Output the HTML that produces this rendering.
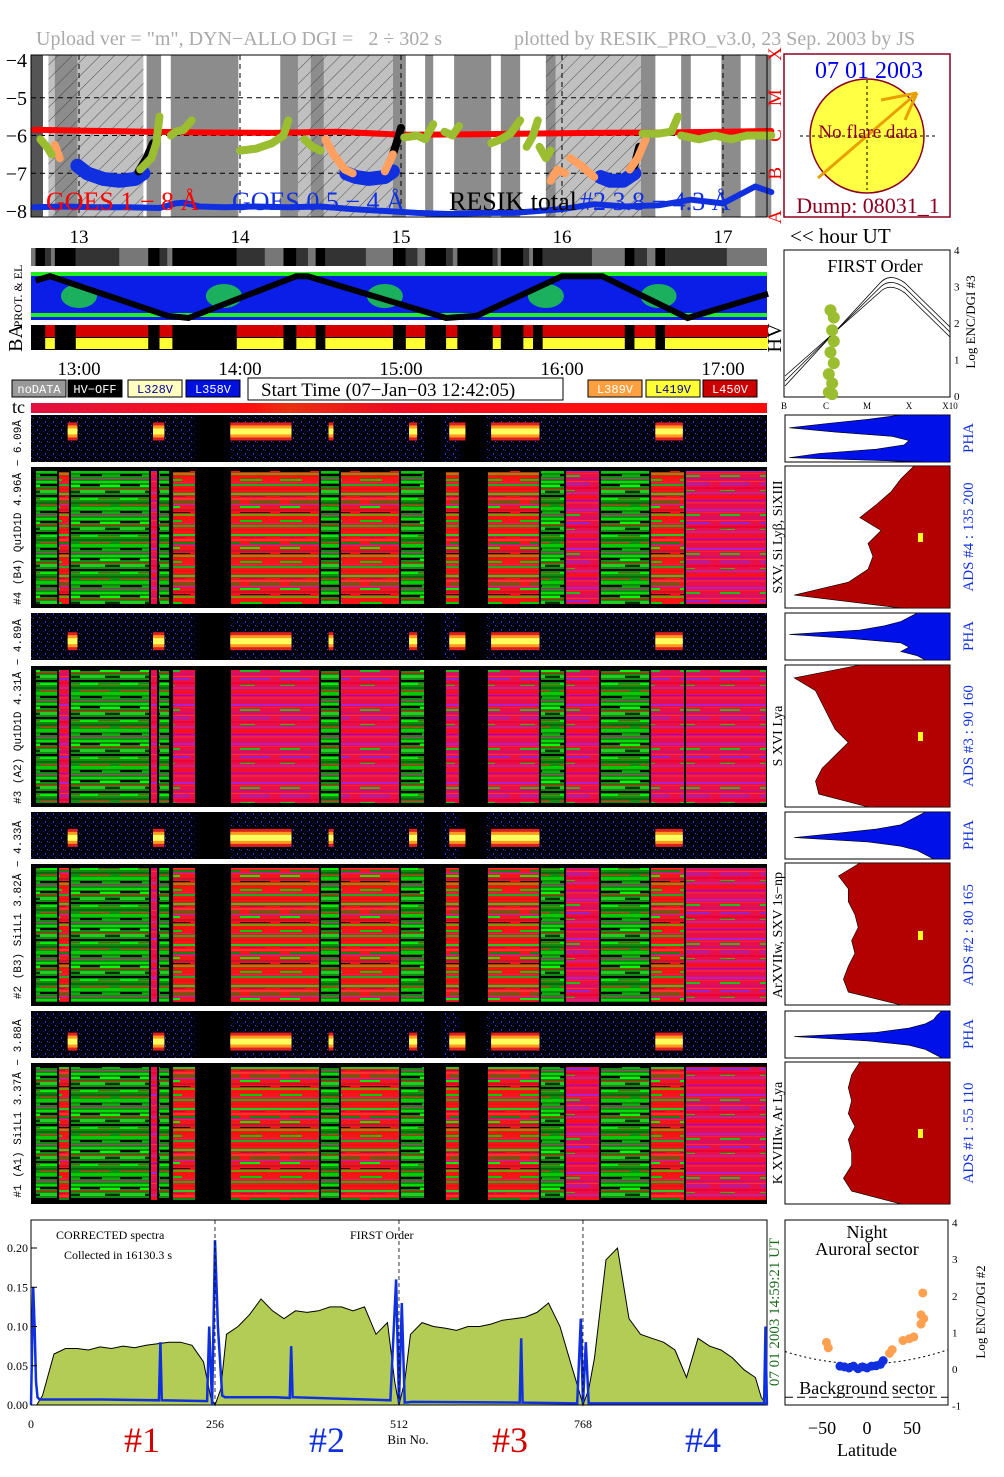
<!DOCTYPE html>
<html><head><meta charset="utf-8"><title>RESIK quicklook</title>
<style>
html,body{margin:0;padding:0;background:#fff;}
body{width:1004px;height:1477px;overflow:hidden;}
svg{display:block;font-family:"Liberation Serif",serif;}
</style></head>
<body>
<svg id="root" width="1004" height="1477" viewBox="0 0 1004 1477" xmlns="http://www.w3.org/2000/svg">
<defs>
<pattern id="hatch" width="10" height="10" patternUnits="userSpaceOnUse" patternTransform="rotate(45)"><line x1="0" y1="0" x2="0" y2="10" stroke="#333" stroke-width="0.8"/></pattern>
<pattern id="patG" width="40" height="37" patternUnits="userSpaceOnUse">
<rect width="40" height="37" fill="#118a11"/><rect y="0" width="40" height="2" fill="#00dd00"/><rect y="3" width="20" height="2" fill="#000"/><rect x="20" y="4" width="20" height="2" fill="#00ff00"/><rect y="7" width="40" height="1" fill="#e01010"/><rect y="9" width="25" height="3" fill="#22cc22"/><rect x="25" y="10" width="15" height="2" fill="#003300"/><rect y="14" width="40" height="2" fill="#000"/><rect y="17" width="18" height="2" fill="#00ee00"/><rect x="18" y="18" width="22" height="1" fill="#668800"/><rect y="21" width="40" height="2" fill="#0a6a0a"/><rect y="24" width="30" height="1" fill="#ff2020"/><rect y="26" width="40" height="3" fill="#00cc00"/><rect y="30" width="22" height="2" fill="#000"/><rect x="22" y="31" width="18" height="2" fill="#11aa11"/><rect y="34" width="40" height="1" fill="#c03080"/>
</pattern>
<pattern id="patR" width="40" height="41" patternUnits="userSpaceOnUse">
<rect width="40" height="41" fill="#f01818"/><rect y="1" width="40" height="2" fill="#22cc22"/><rect y="4" width="25" height="1" fill="#cc0044"/><rect y="6" width="40" height="2" fill="#ff3030"/><rect x="10" y="9" width="30" height="2" fill="#118811"/><rect y="12" width="40" height="1" fill="#bb22cc"/><rect y="14" width="20" height="2" fill="#00ee00"/><rect y="17" width="40" height="2" fill="#d01030"/><rect y="20" width="30" height="1" fill="#000"/><rect y="22" width="40" height="2" fill="#779900"/><rect y="25" width="40" height="2" fill="#ff1010"/><rect y="28" width="22" height="2" fill="#00cc00"/><rect y="31" width="40" height="1" fill="#e02060"/><rect y="33" width="40" height="2" fill="#22aa22"/><rect y="37" width="40" height="2" fill="#ee1111"/>
</pattern>
<pattern id="patM" width="40" height="39" patternUnits="userSpaceOnUse">
<rect width="40" height="39" fill="#e8104a"/><rect y="2" width="40" height="2" fill="#b020d0"/><rect y="5" width="40" height="1" fill="#ff2020"/><rect y="7" width="20" height="2" fill="#22bb22"/><rect y="10" width="40" height="2" fill="#d01070"/><rect y="13" width="40" height="1" fill="#ff3030"/><rect y="15" width="30" height="2" fill="#9922cc"/><rect y="19" width="40" height="2" fill="#ee0033"/><rect y="22" width="15" height="1" fill="#00cc00"/><rect y="24" width="40" height="2" fill="#cc2288"/><rect y="28" width="40" height="2" fill="#ff1010"/><rect y="32" width="40" height="1" fill="#aa00cc"/><rect y="34" width="40" height="2" fill="#f02040"/>
</pattern>
<pattern id="patP" width="8" height="8" patternUnits="userSpaceOnUse">
<rect width="8" height="8" fill="#000"/><rect x="1" y="2" width="1" height="1" fill="#1020c0"/><rect x="5" y="5" width="1" height="2" fill="#2030ff"/><rect x="3" y="7" width="1" height="1" fill="#1010a0"/><rect x="7" y="1" width="1" height="1" fill="#3040ff"/>
</pattern>
<linearGradient id="tcg" x1="0" x2="1"><stop offset="0" stop-color="#e01040"/><stop offset="0.3" stop-color="#ff1010"/><stop offset="0.35" stop-color="#e83010"/><stop offset="0.5" stop-color="#ee0a20"/><stop offset="0.75" stop-color="#ff1010"/><stop offset="1" stop-color="#ff0a0a"/></linearGradient>
</defs>

<text x="36" y="45" font-size="20" fill="#aaa" xml:space="preserve" style="white-space:pre">Upload ver = "m", DYN−ALLO DGI =   2 ÷ 302 s</text>
<text x="514" y="45" font-size="20" fill="#aaa">plotted by RESIK_PRO_v3.0, 23 Sep. 2003 by JS</text>

<g id="goes"></g>
<g id="sun">
<rect x="784" y="54" width="166" height="163" fill="#fff" stroke="#8b0020" stroke-width="1.5"/>
<circle cx="867" cy="136" r="57" fill="#ffff44" stroke="#8b0020" stroke-width="1.5"/>
<line x1="867" y1="80" x2="867" y2="190" stroke="#000" stroke-dasharray="3,3"/>
<line x1="800" y1="136" x2="935" y2="136" stroke="#000" stroke-dasharray="3,3"/>
<line x1="818" y1="178" x2="917" y2="93" stroke="#e8a000" stroke-width="3"/>
<line x1="881" y1="100" x2="917" y2="93" stroke="#e8a000" stroke-width="3"/>
<line x1="905" y1="120" x2="917" y2="93" stroke="#e8a000" stroke-width="3"/>
<text x="869" y="78" font-size="24" fill="#0000ee" text-anchor="middle">07 01 2003</text>
<text x="868" y="138" font-size="19" fill="#8b0020" text-anchor="middle">No flare data</text>
<text x="868" y="213" font-size="22" fill="#8b0020" text-anchor="middle">Dump: 08031_1</text>
</g>

<g id="mid"></g>
<g id="legend"></g>
<g id="spec"></g>
<g id="side"></g>
<g id="first"></g>
<g id="bottom"></g>
<g id="lat"></g>
</svg>
<script>
const hourTicks = [13, 14, 15, 16, 17];
const hourTickLabels = ["13", "14", "15", "16", "17"];
const timeTickLabels = ["13:00", "14:00", "15:00", "16:00", "17:00"];
const goesLogTicks = [-4, -5, -6, -7, -8];
const goesClassLabels = ["X", "M", "C", "B", "A"];
const hatchBands = [[12.81, 13.40], [14.36, 14.95], [15.90, 16.49]];
const darkBands = [[12.85, 12.99], [13.42, 13.51], [13.57, 13.99], [14.25, 14.36], [14.44, 14.52], [14.95, 15.03], [15.15, 15.20], [15.33, 15.56], [15.62, 15.74], [15.90, 15.96], [16.49, 16.58], [16.74, 16.80], [16.99, 17.11], [17.20, 17.30]];
const goesLongT = [12.72, 13.0, 13.4, 13.8, 14.2, 14.6, 15.0, 15.4, 15.8, 16.2, 16.6, 17.0, 17.3];
const goesLongV = [-5.85, -5.87, -5.9, -5.92, -5.93, -5.9, -5.98, -5.97, -5.95, -5.93, -5.92, -5.9, -5.88];
const goesShortT = [12.72, 12.9, 13.1, 13.3, 13.5, 13.6, 13.65, 13.75, 13.9, 14.1, 14.3, 14.5, 14.7, 14.9, 15.1, 15.3, 15.5, 15.7, 15.85, 16.0, 16.2, 16.4, 16.6, 16.8, 17.0, 17.2, 17.3];
const goesShortV = [-7.9, -7.88, -7.9, -7.9, -7.92, -7.8, -7.78, -7.88, -7.9, -7.88, -7.9, -7.88, -7.95, -8.0, -8.05, -8.08, -8.05, -8.05, -8.0, -7.95, -7.82, -7.88, -7.85, -7.7, -7.8, -7.35, -7.5];
const resikDips = [
  {t:[12.99, 13.05, 13.15, 13.25, 13.35, 13.4], v:[-6.8, -7.0, -7.15, -7.2, -7.15, -7.0], c:"#1030e0"},
  {t:[14.66, 14.72, 14.8, 14.9, 14.95], v:[-7.0, -7.1, -7.15, -7.1, -6.95], c:"#1030e0"},
  {t:[16.24, 16.3, 16.38, 16.45], v:[-7.1, -7.2, -7.2, -7.0], c:"#1030e0"},
  {t:[13.37, 13.42, 13.46], v:[-6.95, -6.6, -6.2], c:"#000"},
  {t:[14.95, 14.98, 15.0], v:[-6.5, -6.1, -5.8], c:"#000"},
  {t:[16.45, 16.48], v:[-6.8, -6.3], c:"#000"},
  {t:[14.53, 14.58, 14.65, 14.7], v:[-6.1, -6.5, -6.9, -7.0], c:"#ffa060"},
  {t:[14.9, 14.95], v:[-6.95, -6.5], c:"#ffa060"},
  {t:[15.93, 15.97, 16.02], v:[-7.2, -6.9, -7.0], c:"#ffa060"},
  {t:[16.05, 16.12, 16.2], v:[-6.6, -6.8, -7.1], c:"#ffa060"},
  {t:[16.42, 16.47, 16.52], v:[-6.9, -6.6, -6.1], c:"#ffa060"},
  {t:[12.85, 12.88], v:[-6.25, -6.6], c:"#ffa060"},
  {t:[12.76, 12.8, 12.83], v:[-6.1, -6.3, -6.5], c:"#9bbd30"},
  {t:[13.38, 13.45, 13.48, 13.5], v:[-6.9, -6.6, -6.2, -5.5], c:"#9bbd30"},
  {t:[13.57, 13.6, 13.65, 13.7], v:[-6.0, -5.9, -5.85, -5.6], c:"#9bbd30"},
  {t:[14.0, 14.1, 14.2, 14.27, 14.3], v:[-6.4, -6.35, -6.2, -6.0, -5.6], c:"#9bbd30"},
  {t:[14.4, 14.45, 14.5], v:[-6.1, -6.3, -6.4], c:"#9bbd30"},
  {t:[15.02, 15.1, 15.15, 15.2], v:[-6.05, -6.0, -6.1, -5.7], c:"#9bbd30"},
  {t:[15.27, 15.32, 15.36], v:[-5.9, -6.0, -5.75], c:"#9bbd30"},
  {t:[15.56, 15.62, 15.68, 15.74], v:[-6.2, -6.1, -5.95, -5.6], c:"#9bbd30"},
  {t:[15.78, 15.82, 15.85], v:[-6.3, -6.0, -5.6], c:"#9bbd30"},
  {t:[15.86, 15.9, 15.93], v:[-6.3, -6.6, -6.4], c:"#9bbd30"},
  {t:[16.5, 16.6, 16.68, 16.72], v:[-5.95, -5.95, -5.9, -5.5], c:"#9bbd30"},
  {t:[16.74, 16.85, 16.95, 17.05, 17.15, 17.3], v:[-6.0, -6.1, -6.0, -6.1, -6.0, -6.0], c:"#9bbd30"}
];
const timelineSegments = [[12.727,12.870,"G"],[12.870,12.944,"R"],[12.944,13.441,"G"],[13.441,13.491,"M"],[13.491,13.565,"G"],[13.578,13.727,"R"],[13.727,13.938,"K"],[13.938,14.497,"R"],[14.497,14.621,"G"],[14.621,14.994,"R"],[14.994,15.149,"G"],[15.149,15.273,"K"],[15.273,15.366,"R"],[15.366,15.534,"K"],[15.534,15.863,"R"],[15.863,16.019,"G"],[16.019,16.236,"M"],[16.236,16.547,"G"],[16.547,16.764,"R"],[16.764,17.273,"M"]];
const phaBursts = [[12.93,12.99],[13.46,13.53],[13.94,14.32],[14.55,14.58],[15.05,15.10],[15.30,15.40],[15.56,15.86],[16.58,16.75]];
const baSegments = [[12.73,12.79,0],[12.79,12.85,1],[12.85,12.98,0],[12.98,13.43,1],[13.43,13.50,0],[13.50,13.58,1],[13.58,13.98,0],[13.98,14.27,1],[14.27,14.35,0],[14.35,14.47,1],[14.47,14.53,0],[14.53,14.95,1],[14.95,15.03,0],[15.03,15.15,1],[15.15,15.28,0],[15.28,15.35,1],[15.35,15.57,0],[15.57,15.62,1],[15.62,15.76,0],[15.76,15.82,1],[15.82,15.88,0],[15.88,16.39,1],[16.39,16.45,0],[16.45,16.58,1],[16.58,16.64,0],[16.64,17.28,1]];
const orbitT = [12.73, 12.82, 13.55, 13.68, 14.35, 14.42, 15.28, 15.47, 16.0, 16.25, 16.78, 17.28];
const orbitV = [0.85, 0.95, 0.05, 0.0, 0.95, 0.95, 0.0, 0.05, 0.95, 0.95, 0.0, 0.55];
const ads4 = [0.22, 0.3, 0.36, 0.45, 0.55, 0.42, 0.5, 0.47, 0.5, 0.62, 0.95, 0.3];
const ads3 = [0.55, 0.95, 0.82, 0.78, 0.74, 0.7, 0.62, 0.7, 0.78, 0.82, 0.8, 0.5];
const ads2 = [0.55, 0.68, 0.62, 0.62, 0.58, 0.56, 0.6, 0.58, 0.62, 0.65, 0.62, 0.3];
const ads1 = [0.55, 0.6, 0.62, 0.6, 0.62, 0.58, 0.62, 0.6, 0.6, 0.65, 0.6, 0.3];
const pha4 = [0.3, 0.5, 0.75, 0.98, 0.7, 0.35, 0.25, 0.28, 0.45, 0.8, 0.98, 0.15];
const pha3 = [0.2, 0.25, 0.3, 0.4, 0.55, 0.98, 0.6, 0.3, 0.25, 0.3, 0.2, 0.15];
const pha2 = [0.15, 0.2, 0.25, 0.3, 0.45, 0.7, 0.95, 0.5, 0.3, 0.2, 0.15, 0.1];
const pha1 = [0.05, 0.08, 0.1, 0.15, 0.25, 0.45, 0.95, 0.5, 0.25, 0.15, 0.1, 0.05];
const specBins = [0,8,16,32,48,64,80,96,112,128,144,160,176,192,208,224,240,250,256,264,272,288,304,320,336,352,368,384,400,416,432,448,464,480,496,506,512,520,528,544,560,576,592,608,624,640,656,672,688,704,720,736,752,762,768,776,784,800,816,832,848,864,880,896,912,928,944,960,976,992,1008,1016,1024];
const specVals = [0,0,0.012,0.065,0.072,0.072,0.07,0.074,0.072,0.075,0.073,0.076,0.078,0.08,0.08,0.076,0.055,0.01,0,0.02,0.09,0.1,0.115,0.135,0.12,0.11,0.12,0.118,0.12,0.125,0.125,0.12,0.125,0.09,0.105,0.03,0,0.03,0.09,0.105,0.1,0.098,0.095,0.1,0.1,0.103,0.108,0.11,0.112,0.118,0.13,0.1,0.05,0.02,0,0.02,0.06,0.185,0.2,0.11,0.09,0.085,0.08,0.07,0.035,0.085,0.075,0.07,0.06,0.045,0.035,0.01,0];
const blueBins = [0,3,5,7,9,12,100,178,180,182,245,248,252,256,260,266,270,340,360,362,364,500,508,512,516,520,530,680,682,684,760,765,768,772,776,1020,1022,1024];
const blueVals = [0,0.15,0.1,0.03,0.01,0.007,0.007,0.006,0.08,0.006,0.005,0.1,0,0.21,0.1,0.012,0.01,0.01,0.009,0.075,0.01,0.006,0.16,0.002,0.13,0.003,0.004,0.003,0.085,0.003,0.002,0.11,0.001,0.08,0.002,0.002,0.1,0];
const yTicksSpec = [0, 0.05, 0.10, 0.15, 0.20];
const yTickLabelsSpec = ["0.00", "0.05", "0.10", "0.15", "0.20"];
const xTicksSpec = [0, 256, 512, 768];
const latOrange = [[-45,0.7],[-43,0.55],[25,0.4],[28,0.5],[40,0.75],[47,0.8],[52,0.85],[60,1.2],[63,1.35],[60,1.45],[62,2.05]];
const latBlue = [[-30,0.05],[-25,0.03],[-20,0.0],[-15,0.05],[-10,-0.02],[-5,0.03],[0,0.0],[5,0.05],[10,0.06],[15,0.1],[18,0.2]];
const firstOrderPts = [[0.28,2.35],[0.3,2.15],[0.29,1.8],[0.3,1.5],[0.28,1.2],[0.3,0.9],[0.27,0.6],[0.29,0.35],[0.27,0.1],[0.29,0.05]];

const NS = "http://www.w3.org/2000/svg";
function mk(parent, tag, attrs, txt) {
  const e = document.createElementNS(NS, tag);
  for (const k in attrs) e.setAttribute(k, attrs[k]);
  if (txt !== undefined) e.textContent = txt;
  parent.appendChild(e);
  return e;
}
const xh = h => 79 + (h - 13) * 161;
const gy = v => 60 + (-4 - v) * 37.75;

const goes = document.getElementById("goes");
let r = mk(goes, "rect", {x:31, y:55, width:736, height:162, fill:"#fff"});


mk(goes, "rect", {x:31, y:55, width:12, height:162, fill:"#555"});
hatchBands.forEach(b => {
  let e = mk(goes, "rect", {x:xh(b[0]), y:55, width:xh(b[1])-xh(b[0]), height:162, fill:"#c0c0c0"});
  
  
});
darkBands.forEach(b => {
  let e = mk(goes, "rect", {x:xh(b[0]), y:55, width:xh(b[1])-xh(b[0]), height:162, fill:"#8c8c8c"});
  
  
});
hatchBands.forEach(b => {
  mk(goes, "rect", {x:xh(b[0]), y:55, width:xh(b[1])-xh(b[0]), height:162, fill:"url(#hatch)"});
});
goesLogTicks.forEach((v, i) => {
  if (v > -8 && v < -4) mk(goes, "line", {x1:31, x2:767, y1:gy(v), y2:gy(v), stroke:"#000", "stroke-dasharray":"5,4"});
  let t = mk(goes, "text", {x:27, y:gy(v)+7, "font-size":20, "text-anchor":"end"}, "−" + Math.abs(v));
  
  
  let c = mk(goes, "text", {x:0, y:0, "font-size":19, fill:"#e00", transform:`translate(781,${gy(v)+(i==0?-6:i==4?6:0)}) rotate(-90)`, "text-anchor":"middle"}, goesClassLabels[i]);
  
  
});
hourTicks.forEach(h => mk(goes, "line", {x1:xh(h), x2:xh(h), y1:55, y2:217, stroke:"#000", "stroke-dasharray":"5,4"}));
const line = (g, T, V, col, w, name) => {
  let d = T.map((t, i) => (i ? "L" : "M") + xh(t).toFixed(1) + "," + gy(V[i]).toFixed(1)).join("");
  let p = mk(g, "path", {d:d, fill:"none", stroke:col, "stroke-width":w, "stroke-linejoin":"round", "stroke-linecap":"round"});
  
  
};
line(goes, goesLongT, goesLongV, "#f00", 6, "goes-long-line");
resikDips.forEach(s => line(goes, s.t, s.v, s.c, s.c === "#1030e0" ? 14 : 8, "resik-total-segment"));
line(goes, goesShortT, goesShortV, "#1030e0", 6, "goes-short-line");
let tl = mk(goes, "text", {x:46, y:210, "font-size":26, fill:"#f00"}, "GOES 1 − 8 Å");


tl = mk(goes, "text", {x:232, y:210, "font-size":26, fill:"#1030e0"}, "GOES 0.5 − 4 Å");


tl = mk(goes, "text", {x:449, y:210, "font-size":26, fill:"#000"}, "RESIK total ");


tl = mk(goes, "text", {x:580, y:210, "font-size":26, fill:"#1030e0"}, "#2  3.8 − 4.3 Å");


mk(goes, "rect", {x:31, y:55, width:736, height:162, fill:"none", stroke:"#000", "stroke-width":1});

const mid = document.getElementById("mid");
hourTicks.forEach((h, i) => {
  let t = mk(mid, "text", {x:xh(h), y:243, "font-size":19, "text-anchor":"middle"}, hourTickLabels[i]);
  
  
  t = mk(mid, "text", {x:xh(h), y:375, "font-size":19, "text-anchor":"middle"}, timeTickLabels[i]);
  
  
});
let hu = mk(mid, "text", {x:790, y:243, "font-size":21}, "<< hour UT");


const gs = mk(mid, "rect", {x:31, y:248, width:736, height:18, fill:"#777"});


baSegments.forEach(s => {
  if (s[2] === 0) mk(mid, "rect", {x:xh(s[0]), y:248, width:xh(s[1])-xh(s[0]), height:18, fill:"#000"});
  else { mk(mid, "rect", {x:xh(s[0]), y:248, width:(xh(s[1])-xh(s[0]))*0.6, height:18, fill:"#333"}); }
});
let pm = mk(mid, "rect", {x:31, y:272, width:736, height:48, fill:"#0a1ee8"});


mk(mid, "rect", {x:31, y:272, width:736, height:4, fill:"#22ee22"});
mk(mid, "rect", {x:31, y:313, width:736, height:4, fill:"#22ee22"});
[13.0, 13.9, 14.9, 15.9, 16.6].forEach(h => mk(mid, "ellipse", {cx:xh(h), cy:296, rx:18, ry:12, fill:"#22ee22", opacity:0.7}));
const od = orbitT.map((t, i) => (i ? "L" : "M") + xh(t).toFixed(1) + "," + (318 - orbitV[i] * 44).toFixed(1)).join("");
let op = mk(mid, "path", {d:od, fill:"none", stroke:"#000", "stroke-width":6});


mk(mid, "text", {x:0, y:0, "font-size":12, transform:"translate(22,296) rotate(-90)", "text-anchor":"middle"}, "PROT. & EL");
mk(mid, "rect", {x:31, y:325, width:736, height:25, fill:"#000"});
baSegments.forEach(s => {
  if (s[2] === 1) {
    let a = mk(mid, "rect", {x:xh(s[0]), y:325, width:xh(s[1])-xh(s[0]), height:12, fill:"#d40000"});
    
    
    mk(mid, "rect", {x:xh(s[0]), y:338, width:xh(s[1])-xh(s[0]), height:11, fill:"#ffff33"});
  }
});
mk(mid, "text", {x:0, y:0, "font-size":20, transform:"translate(22,338) rotate(-90)", "text-anchor":"middle"}, "BA");
mk(mid, "text", {x:0, y:0, "font-size":20, transform:"translate(781,338) rotate(-90)", "text-anchor":"middle"}, "HV");

const lg = document.getElementById("legend");
const legendItems = [[12,"noDATA","#999","#fff"],[68,"HV−OFF","#000","#fff"],[128,"L328V","#ffffc0","#00a"],[186,"L358V","#0010e0","#fff"],[588,"L389V","#ffa040","#fff"],[646,"L419V","#ffff33","#00a"],[703,"L450V","#cc0000","#fff"]];
legendItems.forEach(it => {
  let b = mk(lg, "rect", {x:it[0], y:380, width:54, height:17, fill:it[2], stroke:"#000"});
  
  
  let t = mk(lg, "text", {x:it[0]+27, y:393, "font-size":12, fill:it[3], "text-anchor":"middle", "font-family":"Liberation Mono, monospace"}, it[1]);
  
  
});
mk(lg, "rect", {x:248, y:378, width:315, height:22, fill:"#fff", stroke:"#000"});
let st = mk(lg, "text", {x:261, y:396, "font-size":19}, "Start Time (07−Jan−03 12:42:05)");


mk(lg, "text", {x:12, y:413, "font-size":18}, "tc");
let tc = mk(lg, "rect", {x:31, y:403, width:736, height:10, fill:"url(#tcg)"});



const sp = document.getElementById("spec");
const phaRows = [[415, 47, 0.35], [613, 47, 0.6], [812, 47, 0.55], [1011, 47, 0.65]];
const bigRows = [[467, 141, "#4 (B4) Qu1D1D 4.96Å − 6.09Å"], [666, 141, "#3 (A2) Qu1D1D 4.31Å − 4.89Å"], [864, 142, "#2 (B3) Si1L1 3.82Å − 4.33Å"], [1063, 141, "#1 (A1) Si1L1 3.37Å − 3.88Å"]];
phaRows.forEach((row, k) => {
  let bg = mk(sp, "rect", {x:31, y:row[0], width:736, height:row[1], fill:"url(#patP)"});
  
  
  timelineSegments.forEach(s => { if (s[2] === "K") mk(sp, "rect", {x:xh(s[0]), y:row[0], width:xh(s[1])-xh(s[0]), height:row[1], fill:"#000"}); });
  phaBursts.forEach(b => {
    const by = row[0] + row[1] * row[2];
    mk(sp, "rect", {x:xh(b[0]), y:by-9, width:xh(b[1])-xh(b[0]), height:18, fill:"#e02020"});
    mk(sp, "rect", {x:xh(b[0]), y:by-6, width:xh(b[1])-xh(b[0]), height:12, fill:"#ff9a20"});
    let bb = mk(sp, "rect", {x:xh(b[0]), y:by-3, width:xh(b[1])-xh(b[0]), height:6, fill:"#ffff60"});
    
    
  });
});
bigRows.forEach((row, k) => {
  let bg = mk(sp, "rect", {x:31, y:row[0], width:736, height:row[1], fill:"#000"});
  
  
  timelineSegments.forEach(s => {
    if (s[2] === "K") return;
    let f = s[2] === "G" ? "url(#patG)" : s[2] === "M" ? "url(#patM)" : (k === 1 ? "url(#patM)" : "url(#patR)");
    let c = mk(sp, "rect", {x:xh(s[0])+1, y:row[0]+4, width:xh(s[1])-xh(s[0])-2, height:row[1]-8, fill:f});
    
    
  });
  mk(sp, "text", {x:0, y:0, "font-size":11, transform:`translate(21,${row[0]+row[1]/2-25}) rotate(-90)`, "text-anchor":"middle", "font-family":"Liberation Mono, monospace"}, row[2]);
});
const sideLabels = [[537, "SXV, Si Lyβ, SiXIII"], [736, "S XVI Lya"], [935, "ArXVIIw, SXV 1s−np"], [1133, "K XVIIIw, Ar Lya"]];
sideLabels.forEach(l => {
  let t = mk(sp, "text", {x:0, y:0, "font-size":14, transform:`translate(782,${l[0]}) rotate(-90)`, "text-anchor":"middle"}, l[1]);
  
  
});

const sd = document.getElementById("side");
const hist = (y, h, vals, col, name) => {
  mk(sd, "rect", {x:785, y:y, width:165, height:h, fill:"#fff", stroke:"#000"});
  let pts = "950," + y + " ";
  vals.forEach((v, i) => {
    const yy = y + h * i / (vals.length - 1);
    pts += (950 - v * 164).toFixed(1) + "," + yy.toFixed(1) + " ";
  });
  pts += "950," + (y + h);
  let p = mk(sd, "polygon", {points:pts, fill:col, stroke:"#000", "stroke-width":0.6});
  
  
};
hist(415, 47, pha4, "#0010e8", "pha-histogram-4");
hist(466, 142, ads4, "#b30000", "ads-histogram-4");
hist(613, 47, pha3, "#0010e8", "pha-histogram-3");
hist(665, 142, ads3, "#b30000", "ads-histogram-3");
hist(812, 47, pha2, "#0010e8", "pha-histogram-2");
hist(863, 142, ads2, "#b30000", "ads-histogram-2");
hist(1011, 47, pha1, "#0010e8", "pha-histogram-1");
hist(1062, 142, ads1, "#b30000", "ads-histogram-1");
[537, 736, 935, 1133].forEach(y => mk(sd, "rect", {x:918, y:y-4, width:5, height:9, fill:"#ffff20"}));
const adsLabels = [[438, "PHA"], [537, "ADS #4 :  135 200"], [636, "PHA"], [736, "ADS #3 :   90 160"], [835, "PHA"], [935, "ADS #2 :   80 165"], [1034, "PHA"], [1133, "ADS #1 :   55 110"]];
adsLabels.forEach(l => {
  let t = mk(sd, "text", {x:0, y:0, "font-size":15, fill:"#1030e0", transform:`translate(973,${l[0]}) rotate(-90)`, "text-anchor":"middle"}, l[1]);
  
  
});

const fo = document.getElementById("first");
mk(fo, "rect", {x:784, y:250, width:166, height:147, fill:"#fff", stroke:"#000"});
mk(fo, "text", {x:875, y:272, "font-size":18, "text-anchor":"middle"}, "FIRST Order");
[0, 5, 10].forEach(o => mk(fo, "path", {d:`M785,${386-o} L880,${283+o*0.9} Q890,${272+o} 905,${283+o} L950,${327+o}`, fill:"none", stroke:"#000", "stroke-width":0.8}));
firstOrderPts.forEach(p => {
  let c = mk(fo, "circle", {cx:784 + p[0] * 166, cy:396 - p[1] * 36.5, r:6, fill:"#9bbd30"});
  
  
});
["0","1","2","3","4"].forEach((l, i) => mk(fo, "text", {x:954, y:400 - i * 36.5, "font-size":11}, l));
[["B",784],["C",826],["M",867],["X",909],["X10",950]].forEach(l => mk(fo, "text", {x:l[1], y:409, "font-size":9, "text-anchor":"middle"}, l[0]));
mk(fo, "text", {x:0, y:0, "font-size":13, transform:"translate(975,322) rotate(-90)", "text-anchor":"middle"}, "Log ENC/DGI #3");

const bt = document.getElementById("bottom");
const bx = b => 31 + b * 0.7187;
const by = v => 1405 - v * 785;
let frame = mk(bt, "rect", {x:31, y:1220, width:736, height:185, fill:"#fff", stroke:"#000"});


let gd = "M" + bx(0) + "," + by(0) + specBins.map((b, i) => "L" + bx(b).toFixed(1) + "," + by(specVals[i]).toFixed(1)).join("") + "Z";
let gp = mk(bt, "path", {d:gd, fill:"#b2cc55", stroke:"#000", "stroke-width":1});


let bd = blueBins.map((b, i) => (i ? "L" : "M") + bx(b).toFixed(1) + "," + by(blueVals[i]).toFixed(1)).join("");
let bp = mk(bt, "path", {d:bd, fill:"none", stroke:"#1030e0", "stroke-width":2.5});


[256, 512, 768].forEach(b => mk(bt, "line", {x1:bx(b), x2:bx(b), y1:1220, y2:1405, stroke:"#000", "stroke-dasharray":"4,3", "stroke-width":0.8}));
yTicksSpec.forEach((v, i) => {
  let t = mk(bt, "text", {x:28, y:by(v)+4, "font-size":12, "text-anchor":"end"}, yTickLabelsSpec[i]);
  
  
  mk(bt, "line", {x1:31, x2:37, y1:by(v), y2:by(v), stroke:"#000"});
});
xTicksSpec.forEach(b => {
  let t = mk(bt, "text", {x:bx(b), y:1428, "font-size":12, "text-anchor":"middle"}, String(b));
  
  
});
mk(bt, "text", {x:56, y:1239, "font-size":12}, "CORRECTED spectra");
mk(bt, "text", {x:64, y:1259, "font-size":12}, "Collected in 16130.3 s");
mk(bt, "text", {x:350, y:1239, "font-size":12}, "FIRST Order");
mk(bt, "text", {x:408, y:1444, "font-size":13, "text-anchor":"middle"}, "Bin No.");
[["#1",142,"#d40000"],["#2",327,"#1030e0"],["#3",510,"#d40000"],["#4",703,"#1030e0"]].forEach(l => {
  let t = mk(bt, "text", {x:l[1], y:1452, "font-size":36, fill:l[2], "text-anchor":"middle"}, l[0]);
  
  
});
mk(bt, "text", {x:0, y:0, "font-size":15, fill:"#1a6b1a", transform:"translate(779,1312) rotate(-90)", "text-anchor":"middle"}, "07 01 2003      14:59:21 UT");

const lt = document.getElementById("lat");
const lx = d => 867 + d * 0.9;
const ly = v => 1368 - v * 36.6;
let lf = mk(lt, "rect", {x:785, y:1220, width:163, height:185, fill:"#fff", stroke:"#000"});


mk(lt, "path", {d:`M785,${ly(0.45)} Q867,${ly(-0.25)} 948,${ly(0.5)}`, fill:"none", stroke:"#000", "stroke-dasharray":"2,3"});
mk(lt, "line", {x1:785, x2:948, y1:ly(-0.8), y2:ly(-0.8), stroke:"#000", "stroke-dasharray":"8,4"});
latOrange.forEach(p => {
  let c = mk(lt, "circle", {cx:lx(p[0]), cy:ly(p[1]), r:4.5, fill:"#ffa050"});
  
  
});
latBlue.forEach(p => {
  let c = mk(lt, "circle", {cx:lx(p[0]), cy:ly(p[1]), r:4.5, fill:"#1030e0"});
  
  
});
mk(lt, "text", {x:867, y:1238, "font-size":18, "text-anchor":"middle"}, "Night");
mk(lt, "text", {x:867, y:1255, "font-size":18, "text-anchor":"middle"}, "Auroral sector");
mk(lt, "text", {x:867, y:1394, "font-size":18, "text-anchor":"middle"}, "Background sector");
["-1","0","1","2","3","4"].forEach((l, i) => mk(lt, "text", {x:952, y:ly(i-1)+5, "font-size":11}, l));
[["−50",-50],["0",0],["50",50]].forEach(l => mk(lt, "text", {x:lx(l[1]), y:1434, "font-size":18, "text-anchor":"middle"}, l[0]));
mk(lt, "text", {x:867, y:1456, "font-size":18, "text-anchor":"middle"}, "Latitude");
mk(lt, "text", {x:0, y:0, "font-size":13, transform:"translate(985,1312) rotate(-90)", "text-anchor":"middle"}, "Log ENC/DGI #2");
</script>
</body></html>
